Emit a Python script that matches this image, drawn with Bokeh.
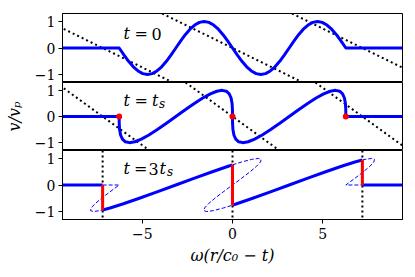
from bokeh.plotting import figure
from bokeh.models import Range1d, FixedTicker, Label, Slope, Span
from bokeh.layouts import column
from bokeh.embed import file_html
from bokeh.resources import INLINE

# ---------------- data ----------------
X_LO, X_HI = -9.425, 9.425
Y_LO, Y_HI = -1.3, 1.3
# initial phase positions of the wave samples (t = 0)
x0 = [-6.283, -6.021, -5.760, -5.498, -5.236, -4.974, -4.712, -4.451, -4.189, -3.927,
      -3.665, -3.403, -3.142, -2.880, -2.618, -2.356, -2.094, -1.833, -1.571, -1.309,
      -1.047, -0.785, -0.524, -0.262, 0.0, 0.262, 0.524, 0.785, 1.047, 1.309,
      1.571, 1.833, 2.094, 2.356, 2.618, 2.880, 3.142, 3.403, 3.665, 3.927,
      4.189, 4.451, 4.712, 4.974, 5.236, 5.498, 5.760, 6.021, 6.283]
# velocity of each sample v / v_p
v0 = [0.0, -0.259, -0.5, -0.707, -0.866, -0.966, -1.0, -0.966, -0.866, -0.707,
      -0.5, -0.259, 0.0, 0.259, 0.5, 0.707, 0.866, 0.966, 1.0, 0.966,
      0.866, 0.707, 0.5, 0.259, 0.0, -0.259, -0.5, -0.707, -0.866, -0.966,
      -1.0, -0.966, -0.866, -0.707, -0.5, -0.259, 0.0, 0.259, 0.5, 0.707,
      0.866, 0.966, 1.0, 0.966, 0.866, 0.707, 0.5, 0.259, 0.0]
# positions of the same samples at t = t_s
x_ts = [-6.283, -6.280, -6.260, -6.205, -6.102, -5.940, -5.712, -5.417, -5.055, -4.634,
        -4.165, -3.662, -3.142, -2.621, -2.118, -1.649, -1.228, -0.867, -0.571, -0.343,
        -0.181, -0.078, -0.024, -0.003, 0.0, 0.003, 0.024, 0.078, 0.181, 0.343,
        0.571, 0.867, 1.228, 1.649, 2.118, 2.621, 3.142, 3.662, 4.165, 4.634,
        5.055, 5.417, 5.712, 5.940, 6.102, 6.205, 6.260, 6.280, 6.283]
# positions of the same samples at t = 3 t_s (multivalued)
x_3ts = [-6.283, -6.798, -7.260, -7.619, -7.834, -7.872, -7.712, -7.349, -6.787, -6.048,
         -5.165, -4.180, -3.142, -2.103, -1.118, -0.235, 0.504, 1.065, 1.429, 1.589,
         1.551, 1.336, 0.976, 0.515, 0.0, -0.515, -0.976, -1.336, -1.551, -1.589,
         -1.429, -1.065, -0.504, 0.235, 1.118, 2.103, 3.142, 4.180, 5.165, 6.048,
         6.787, 7.349, 7.712, 7.872, 7.834, 7.619, 7.260, 6.798, 6.283]
shock_x = [-7.2, 0.0, 7.2]
shock_top = [0.0, 0.76, 0.94]
shock_bot = [-0.94, -0.76, 0.0]
steep_x = [-6.283, 0.0, 6.283]
steep_v = [0.0, 0.0, 0.0]
dotted_gradient = [-1 / 3, -1 / 2]
y_ticks = [-1, 0, 1]
x_ticks = [-5, 0, 5]
x_label = "\u03c9(r/c\u2080 \u2212 t)"
y_label = "v/v\u209a"

BLUE = "#0000ff"
RED = "#ff0000"
FONT = "'DejaVu Serif'"
DOT = "2 3"
DASH = "4 2"

xr = Range1d(X_LO, X_HI)
FRAME_L, FRAME_W = 62, 340


def px_x(px):
    return X_LO + (px - FRAME_L) * (X_HI - X_LO) / FRAME_W


def px_y(py, top, h):
    return Y_HI - (py - top) * (Y_HI - Y_LO) / h


def make_fig(h, top, bottom, xaxis, ylab=None):
    p = figure(frame_width=FRAME_W, frame_height=h, x_range=xr,
               y_range=Range1d(Y_LO, Y_HI), output_backend="svg",
               toolbar_location=None,
               x_axis_location="below" if xaxis else None,
               min_border_left=FRAME_L, min_border_right=10,
               min_border_top=top, min_border_bottom=bottom)
    p.grid.visible = False
    p.outline_line_color = "black"
    p.outline_line_width = 1
    p.outline_line_alpha = 1
    p.background_fill_color = "white"
    p.border_fill_color = "white"
    axes = list(p.yaxis) + (list(p.xaxis) if xaxis else [])
    for ax in axes:
        ax.minor_tick_line_color = None
        ax.major_tick_out = 4
        ax.major_tick_in = 0
        ax.major_tick_line_color = "black"
        ax.axis_line_color = "black"
        ax.major_label_text_font = FONT
        ax.major_label_text_font_size = "14px"
        ax.major_label_text_color = "black"
        ax.axis_label_text_font = FONT
        ax.axis_label_text_font_size = "16px"
        ax.axis_label_text_font_style = "italic"
        ax.axis_label_text_color = "black"
    p.yaxis[0].ticker = FixedTicker(ticks=y_ticks)
    p.yaxis[0].major_label_overrides = {t: str(t).replace("-", "\u2212") for t in y_ticks}
    p.yaxis[0].major_label_standoff = 3
    if ylab:
        p.yaxis[0].axis_label = ylab
        p.yaxis[0].axis_label_standoff = 8
    if xaxis:
        p.xaxis[0].ticker = FixedTicker(ticks=x_ticks)
        p.xaxis[0].major_label_overrides = {t: str(t).replace("-", "\u2212") for t in x_ticks}
        p.xaxis[0].major_label_standoff = 4
        p.xaxis[0].axis_label = x_label
        p.xaxis[0].axis_label_standoff = 4
    return p


def add_text(p, px, py, top, h, text, size="16px", style="italic"):
    p.add_layout(Label(x=px_x(px), y=px_y(py, top, h), text=text, text_font=FONT,
                       text_font_style=style, text_font_size=size,
                       text_baseline="alphabetic", text_align="left",
                       text_color="black"))


T1, H1 = 13, 69
T2, H2 = 82, 68
T3, H3 = 150, 69

p1 = make_fig(H1, T1, 0, False)
p2 = make_fig(H2, 0, 0, False, ylab=y_label)
p3 = make_fig(H3, 0, 55, True)

# dotted lines in panels 1 and 2
for p, g in zip([p1, p2], dotted_gradient):
    for xs in shock_x:
        p.add_layout(Slope(gradient=g, y_intercept=-g * xs, line_color="black",
                           line_width=2, line_dash=DOT, level="underlay"))
for xs in shock_x:
    p3.add_layout(Span(location=xs, dimension="height", line_color="black",
                       line_width=2, line_dash=DOT, level="underlay"))

# panel 1
p1.line([X_LO] + x0 + [X_HI], [0.0] + v0 + [0.0], line_color=BLUE, line_width=3,
        line_join="round")
# panel 2
p2.line([X_LO] + x_ts + [X_HI], [0.0] + v0 + [0.0], line_color=BLUE, line_width=3,
        line_join="round")
p2.scatter(steep_x, steep_v, size=6, color=RED, line_color=None)

# panel 3
dash_xs = [[shock_x[0]] + x_3ts[0:8] + [shock_x[0]],
           [shock_x[1]] + x_3ts[16:33] + [shock_x[1]],
           [shock_x[2]] + x_3ts[41:49] + [shock_x[2]]]
dash_ys = [[0.0] + v0[0:8] + [shock_bot[0]],
           [shock_top[1]] + v0[16:33] + [shock_bot[1]],
           [shock_top[2]] + v0[41:49] + [0.0]]
p3.multi_line(dash_xs, dash_ys, line_color=BLUE, line_width=1, line_dash=DASH)
solid_xs = [[X_LO, shock_x[0]],
            [shock_x[0]] + x_3ts[8:16] + [shock_x[1]],
            [shock_x[1]] + x_3ts[33:41] + [shock_x[2]],
            [shock_x[2], X_HI]]
solid_ys = [[0.0, 0.0],
            [shock_bot[0]] + v0[8:16] + [shock_top[1]],
            [shock_bot[1]] + v0[33:41] + [shock_top[2]],
            [0.0, 0.0]]
p3.multi_line(solid_xs, solid_ys, line_color=BLUE, line_width=3, line_join="round")
p3.segment(x0=shock_x, y0=shock_top, x1=shock_x, y1=shock_bot, line_color=RED,
           line_width=3)

# panel texts
add_text(p1, 123, 33.3, T1, H1, "t")
add_text(p1, 134, 33.3, T1, H1, "=", style="normal")
add_text(p1, 151, 33.3, T1, H1, "0", style="normal")

add_text(p2, 123, 100.3, T2, H2, "t")
add_text(p2, 134, 100.3, T2, H2, "=", style="normal")
add_text(p2, 151.5, 100.3, T2, H2, "t")
add_text(p2, 158.5, 103, T2, H2, "s", size="12px")

add_text(p3, 123, 168.3, T3, H3, "t")
add_text(p3, 133.5, 168.3, T3, H3, "=", style="normal")
add_text(p3, 148, 168.3, T3, H3, "3", style="normal")
add_text(p3, 159, 168.3, T3, H3, "t")
add_text(p3, 166.5, 171, T3, H3, "s", size="12px")

layout = column(p1, p2, p3)
open("out.html", "w").write(file_html(layout, INLINE))
